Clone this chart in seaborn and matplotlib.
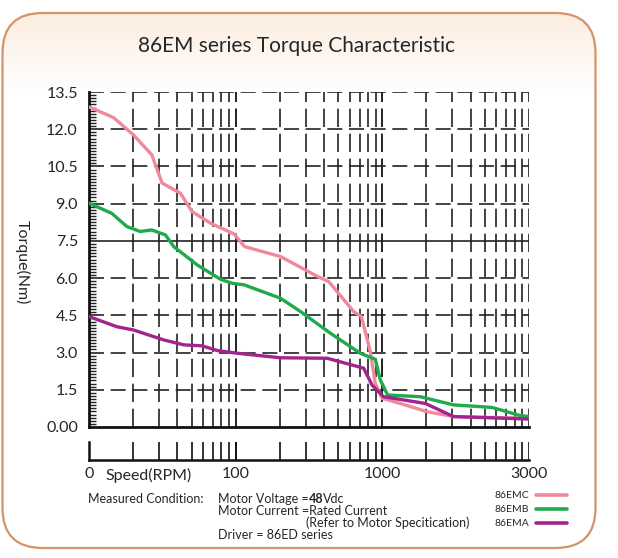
import numpy as np
import pandas as pd
import matplotlib
matplotlib.use("Agg")
import matplotlib.pyplot as plt
from matplotlib.patches import FancyBboxPatch
import seaborn as sns

# curves (speed in RPM, torque in Nm)
emc_speed = [10, 14.7, 20.1, 26.8, 31.5, 42, 50.4, 67.5, 97.5, 115, 202, 363, 431, 638, 720, 828, 895, 995, 1072, 1225, 1457, 3000]
emc_torque = [12.9, 12.47, 11.77, 10.97, 9.83, 9.42, 8.68, 8.21, 7.78, 7.27, 6.87, 6.06, 5.86, 4.65, 4.45, 3.04, 1.76, 1.16, 0.95, 0.62, 0.42, 0.35]

emb_speed = [10, 14.3, 18.1, 22.3, 26.8, 33.2, 37.8, 54.7, 78.9, 94.8, 114, 202, 277, 442, 708, 895, 968, 1019, 1181, 1457, 2016, 2344, 2709, 3000]
emb_torque = [9.02, 8.61, 8.08, 7.88, 7.94, 7.74, 7.27, 6.53, 5.95, 5.79, 5.73, 5.19, 4.65, 3.78, 2.97, 2.73, 1.9, 1.29, 1.22, 0.89, 0.79, 0.62, 0.46, 0.42]

ema_speed = [10, 15.5, 20.1, 32.3, 44.3, 59.1, 75, 103, 202, 421, 746, 851, 1004, 1214, 1457, 3000]
ema_torque = [4.45, 4.04, 3.91, 3.51, 3.31, 3.27, 3.08, 2.97, 2.79, 2.77, 2.37, 1.69, 1.22, 0.95, 0.42, 0.32]

models = ["86EMC", "86EMB", "86EMA"]
colors = {"86EMC": "#f0899b", "86EMB": "#1faa4c", "86EMA": "#a3238f"}

y_ticks = [0, 1.5, 3.0, 4.5, 6.0, 7.5, 9.0, 10.5, 12.0, 13.5]
y_labels = ["0.00", "1.5", "3.0", "4.5", "6.0", "7.5", "9.0", "10.5", "12.0", "13.5"]
x_ticks = [10, 100, 1000, 3000]
x_labels = ["0", "100", "1000", "3000"]

df = pd.concat([
    pd.DataFrame({"speed": emc_speed, "torque": emc_torque, "model": "86EMC"}),
    pd.DataFrame({"speed": emb_speed, "torque": emb_torque, "model": "86EMB"}),
    pd.DataFrame({"speed": ema_speed, "torque": ema_torque, "model": "86EMA"}),
])


# the chart is log up to 1000, then 1000..3000 is stretched over one more decade
def fwd(x):
    x = np.clip(np.asarray(x, dtype=float), 1e-3, None)
    hi = 3 + np.log10(1 + 9 * np.clip(x - 1000, 0, None) / 2000)
    return np.where(x <= 1000, np.log10(x), hi)


def inv(y):
    y = np.asarray(y, dtype=float)
    hi = 1000 + (10 ** np.clip(y - 3, 0, None) - 1) * 2000 / 9
    return np.where(y <= 3, 10 ** y, hi)


grid_x = [inv(d + np.log10(k)) for d in (1, 2, 3) for k in range(1, 11)]

sns.set_style("white")
plt.rcParams["font.family"] = ["Lato", "DejaVu Sans"]

W, H = 618, 558
fig = plt.figure(figsize=(W / 100, H / 100), dpi=100)

# rounded panel with peach gradient at top
bg = fig.add_axes([0, 0, 1, 1], zorder=-5)
bg.set_xlim(0, W)
bg.set_ylim(0, H)
bg.axis("off")
grad = np.ones((H, 1, 3))
t = np.clip((np.arange(H) - 13) / 80.0, 0, 1)[:, None]
peach = np.array([0.99, 0.93, 0.88])
grad[:, 0, :] = peach * (1 - t) + np.ones(3) * t
im = bg.imshow(grad, extent=[0, W, 0, H], aspect="auto", zorder=0)
box = FancyBboxPatch((2.5, H - 548), 593, 535, boxstyle="round,pad=0,rounding_size=40",
                     facecolor="none", edgecolor="#d29468", linewidth=1.6, zorder=2)
bg.add_patch(box)
im.set_clip_path(box)

ax = fig.add_axes([89 / W, (H - 427) / H, (529 - 89) / W, (427 - 92) / H])
ax.set_facecolor("none")
ax.set_xscale("function", functions=(fwd, inv))

for gx in grid_x[1:]:
    ax.axvline(gx, color="#222222", lw=1.2, ls=(0, (11, 4)), zorder=1)
for gy in y_ticks[1:]:
    if gy == 7.5:
        ax.axhline(gy, color="#222222", lw=1.2, zorder=1)
    else:
        ax.axhline(gy, color="#222222", lw=1.2, ls=(0, (9, 4)), zorder=1)

sns.lineplot(data=df, x="speed", y="torque", hue="model", hue_order=models, palette=colors,
             sort=False, estimator=None, linewidth=2.4, ax=ax, legend=False, zorder=3)

ax.set_xlim(10, 3000)
ax.set_ylim(0, 13.5)
ax.set_xticks([])
ax.set_xticks([], minor=True)
ax.set_yticks(y_ticks)
ax.set_yticklabels(y_labels, fontsize=11.5)
ax.set_yticks(np.arange(0, 13.5, 0.125), minor=True)
ax.tick_params(axis="y", which="major", length=0, pad=8)
ax.tick_params(axis="y", which="minor", direction="in", length=5, width=1, color="#222222", left=True)
ax.set_xlabel("")
ax.set_ylabel("")
for s in ("top", "right"):
    ax.spines[s].set_visible(False)
for s in ("left", "bottom"):
    ax.spines[s].set_color("#111111")
    ax.spines[s].set_linewidth(2)

# tick ruler below the plot
rl = fig.add_axes([89 / W, (H - 460) / H, (529 - 89) / W, 18 / H])
rl.set_facecolor("none")
rl.set_xscale("function", functions=(fwd, inv))
rl.set_xlim(10, 3000)
rl.set_ylim(0, 1)
for gx in grid_x[1:]:
    rl.axvline(gx, color="#111111", lw=1.2)
rl.set_yticks([])
rl.set_xticks(x_ticks)
rl.set_xticklabels(x_labels, fontsize=11.5)
rl.set_xticks([], minor=True)
rl.tick_params(axis="x", length=0, pad=5)
for s in ("top", "right"):
    rl.spines[s].set_visible(False)
for s in ("left", "bottom"):
    rl.spines[s].set_color("#111111")
    rl.spines[s].set_linewidth(1.8)

fig.text(297 / W, 1 - 46 / H, "86EM series Torque Characteristic", ha="center", va="center", fontsize=15)
fig.text(22 / W, 1 - 262 / H, "Torque(Nm)", ha="center", va="center", rotation=-90, fontsize=11.5)
fig.text(105 / W, 1 - 475 / H, "Speed(RPM)", ha="left", va="center", fontsize=11.5)

fs = 9
fig.text(88 / W, 1 - 499 / H, "Measured Condition:", ha="left", va="center", fontsize=fs)
fig.canvas.draw()
r = fig.canvas.get_renderer()
t1 = fig.text(218 / W, 1 - 499 / H, "Motor Voltage =", ha="left", va="center", fontsize=fs)
x1 = t1.get_window_extent(r).x1 / W
t2 = fig.text(x1, 1 - 499 / H, "48", ha="left", va="center", fontsize=fs, fontweight="bold")
x2 = t2.get_window_extent(r).x1 / W
fig.text(x2, 1 - 499 / H, "Vdc", ha="left", va="center", fontsize=fs)
fig.text(218 / W, 1 - 511 / H, "Motor Current =Rated Current", ha="left", va="center", fontsize=fs)
fig.text(306 / W, 1 - 523 / H, "(Refer to Motor Specitication)", ha="left", va="center", fontsize=fs)
fig.text(218 / W, 1 - 535 / H, "Driver = 86ED series", ha="left", va="center", fontsize=fs)

handles = [plt.Line2D([], [], color=colors[m], lw=2.6) for m in models]
fig.legend(handles, models, loc="upper right", bbox_to_anchor=(572 / W, 1 - 486 / H),
           frameon=False, markerfirst=False, fontsize=7.5, handlelength=3.0,
           labelspacing=0.45, handletextpad=0.6, borderpad=0)

fig.savefig("out.png", dpi=100)
